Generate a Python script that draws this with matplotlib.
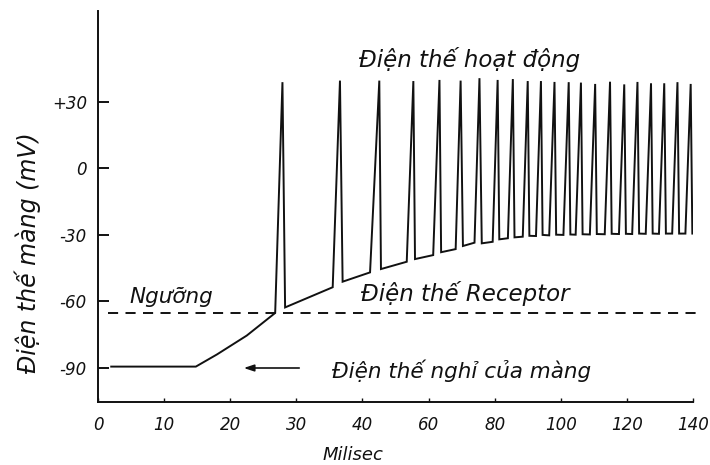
import numpy as np
import matplotlib
matplotlib.use("Agg")
import matplotlib.pyplot as plt

# Time axis ticks (ms) - drawn at equal spacing on the axis
tick_ms = [0, 10, 20, 30, 40, 60, 80, 100, 120, 140]
tick_labels_x = ["0", "10", "20", "30", "40", "60", "80", "100", "120", "140"]
tick_mv = [30, 0, -30, -60, -90]
tick_labels_y = ["+30", "0", "-30", "-60", "-90"]

# Resting potential and receptor-potential rise to threshold
rest_t = [2.0, 14.8, 18.0, 22.5, 26.8]
rest_v = [-89.5, -89.5, -84.0, -75.5, -65.3]

threshold_mv = -65.3

# Action potentials: onset (end of ramp), peak, and trough after each spike
onset_t = [26.8, 35.5, 42.3, 53.4, 61.4, 68.2, 73.9, 79.4, 84.0, 88.5, 92.5,
           96.5, 100.8, 104.5, 108.8, 113.3, 117.6, 121.6, 125.7, 129.7, 133.7, 137.7]
onset_v = [-65.3, -53.7, -47.0, -42.2, -39.2, -36.5, -33.6, -33.2, -31.6, -30.9, -30.6,
           -30.3, -30.1, -30.0, -29.9, -29.8, -29.7, -29.7, -29.6, -29.6, -29.5, -29.5]
peak_t = [27.9, 36.6, 45.1, 55.4, 63.3, 69.7, 75.4, 80.9, 85.5, 90.0, 94.0,
          98.1, 102.4, 106.1, 110.4, 114.9, 119.2, 123.2, 127.3, 131.3, 135.3, 139.3]
peak_v = [38.8, 39.5, 39.5, 39.3, 39.8, 39.5, 40.6, 39.8, 40.2, 39.3, 39.3,
          38.9, 38.8, 38.6, 38.0, 39.0, 37.8, 38.9, 38.3, 38.3, 38.8, 38.0]
trough_t = [28.3, 37.0, 45.6, 55.9, 63.8, 70.4, 76.1, 81.4, 86.0, 90.5, 94.5,
            98.6, 102.9, 106.6, 110.9, 115.4, 119.7, 123.7, 127.8, 131.8, 135.8, 139.8]
trough_v = [-62.8, -51.2, -45.5, -41.0, -37.9, -35.1, -33.9, -32.1, -31.2, -30.5, -30.1,
            -30.0, -29.9, -29.8, -29.7, -29.6, -29.6, -29.5, -29.5, -29.5, -29.5, -29.5]

# Assemble the membrane-potential trace
t = list(rest_t)
v = list(rest_v)
for i in range(len(peak_t)):
    if i > 0:
        t.append(onset_t[i]); v.append(onset_v[i])
    t.append(peak_t[i]); v.append(peak_v[i])
    t.append(trough_t[i]); v.append(trough_v[i])

W, H = 710, 465
fig = plt.figure(figsize=(W / 100, H / 100), dpi=100)
ax = fig.add_axes([98 / W, 1 - 402.3 / H, (693 - 98) / W, (402.3 - 11) / H])

tick_pos = np.arange(len(tick_ms), dtype=float)


def fwd(x):
    return np.interp(x, tick_ms, tick_pos)


def inv(u):
    return np.interp(u, tick_pos, tick_ms)


ax.set_xscale("function", functions=(fwd, inv))
ax.set_xlim(0, 140)
ax.set_ylim(-105.6, 70.9)

lw = 1.4
ink = "#111111"
ax.plot(t, v, color=ink, lw=lw, solid_joinstyle="miter")
ax.axhline(threshold_mv, xmin=10 / 595, xmax=(700 - 98) / 595, color=ink, lw=lw,
           ls=(0, (5.2, 3.8)), clip_on=False)

for s in ["top", "right"]:
    ax.spines[s].set_visible(False)
for s in ["left", "bottom"]:
    ax.spines[s].set_linewidth(lw)
    ax.spines[s].set_color(ink)

font = dict(family="DejaVu Sans", style="italic")
ax.set_xticks(tick_ms)
ax.set_xticklabels(tick_labels_x, **font, fontsize=12)
ax.set_yticks(tick_mv)
ax.set_yticklabels(tick_labels_y, **font, fontsize=12)
ax.tick_params(axis="y", direction="in", length=8, width=lw, pad=8, colors=ink)
ax.tick_params(axis="x", direction="in", length=3, width=1.0, pad=10, colors=ink)
ax.minorticks_off()


def fx(px):
    return px / W


def fy(py):
    return 1 - py / H


fig.text(fx(470), fy(59), "Điện thế hoạt động", ha="center", va="center",
         fontsize=16.5, color=ink, **font)
fig.text(fx(171), fy(297), "Ngưỡng", ha="center", va="center",
         fontsize=15.5, color=ink, **font)
fig.text(fx(465), fy(294), "Điện thế Receptor", ha="center", va="center",
         fontsize=16.5, color=ink, **font)
fig.text(fx(462), fy(371), "Điện thế nghỉ của màng", ha="center", va="center",
         fontsize=15.5, color=ink, **font)
fig.text(fx(353), fy(455), "Milisec", ha="center", va="center",
         fontsize=13, color=ink, **font)
fig.text(fx(28), fy(253), "Điện thế màng (mV)", ha="center", va="center",
         rotation=90, fontsize=17, color=ink, **font)

fig.patches.append(matplotlib.patches.FancyArrowPatch(
    (fx(302), fy(368)), (fx(241), fy(368)), transform=fig.transFigure,
    arrowstyle="-|>,head_length=6,head_width=2", color=ink, lw=1.2))

fig.savefig("out.png", dpi=100, facecolor="white")
